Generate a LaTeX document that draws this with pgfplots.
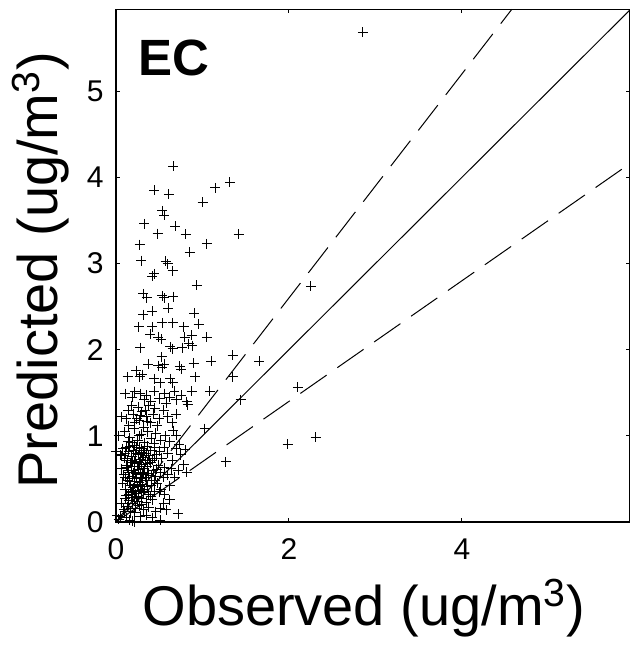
\documentclass[border=0pt]{standalone}
\usepackage{fontspec}
\setmainfont{Liberation Sans}
\usepackage{pgfplots}
\pgfplotsset{compat=1.18}
\begin{document}
\begin{tikzpicture}
\begin{axis}[
  at={(0,0)}, anchor=south west,
  scale only axis,
  width=257pt, height=256.5pt,
  xmin=0, xmax=5.94, ymin=0, ymax=5.95,
  xtick={0,2,4}, ytick={0,1,2,3,4,5},
  xtick pos=both, ytick pos=both,
  tick align=inside,
  major tick length=2pt,
  every tick/.style={black, line width=0.5pt},
  axis line style={line width=0.7pt},
  /pgf/number format/assume math mode=true,
  tick label style={font=\fontsize{15}{18}\selectfont},
  xticklabel style={anchor=north, inner sep=0pt, yshift=-8pt},
  yticklabel style={anchor=east, inner sep=0pt, xshift=-6pt},
  xlabel={Observed (ug/m\textsuperscript{3})},
  ylabel={Predicted (ug/m\textsuperscript{3})},
  label style={font=\fontsize{28}{32}\selectfont},
  xlabel style={at={([yshift=-51.5pt]rel axis cs:0.4825,0)}, anchor=base},
  ylabel style={at={([xshift=-29pt]rel axis cs:0,0.491)}, anchor=base},
  clip=false,
]
\addplot[only marks, mark=+, mark size=2.5pt, line width=0.5pt, black] coordinates {
(2.855,5.684) (0.663,4.128) (0.445,3.853) (0.612,3.805) (1.149,3.878) (1.316,3.945) (1.001,3.709) (0.538,3.61) (0.56,3.56) (0.329,3.459) (0.482,3.348) (0.686,3.43) (0.806,3.338) (1.418,3.338) (0.273,3.218) (1.052,3.227) (0.853,3.131) (0.292,3.035) (0.575,3.025) (0.598,2.996) (0.654,2.914) (0.422,2.85) (0.445,2.88) (0.932,2.746) (2.253,2.736) (0.315,2.649) (0.357,2.6) (0.538,2.625) (0.56,2.6) (0.663,2.616) (0.422,2.447) (0.315,2.408) (0.607,2.48) (0.904,2.423) (0.538,2.312) (0.654,2.312) (0.264,2.264) (0.422,2.264) (0.955,2.298) (0.783,2.264) (0.399,2.177) (0.491,2.144) (0.524,2.12) (0.793,2.144) (0.876,2.168) (0.839,2.071) (1.052,2.144) (0.63,2.033) (0.654,2.013) (0.283,2.023) (0.769,2.023) (0.885,2.047) (1.349,1.936) (0.899,1.84) (1.103,1.864) (1.659,1.864) (0.528,1.917) (0.375,1.83) (0.491,1.816) (0.538,1.792) (0.56,1.83) (0.737,1.806) (0.755,1.773) (0.236,1.758) (1.353,1.686) (0.918,1.686) (0.134,1.686) (0.273,1.686) (0.306,1.71) (0.445,1.662) (0.514,1.614) (0.63,1.662) (0.654,1.614) (1.085,1.517) (0.876,1.517) (2.104,1.566) (1.441,1.421) (0.816,1.397) (1.024,1.084) (2.308,0.987) (1.984,0.901) (1.27,0.698) (0.723,0.096) (0.816,0.578) (0.783,0.665)
(0.11,1.49) (0.22,1.51) (0.283,1.49) (0.352,1.47) (0.445,1.52) (0.561,1.49) (0.677,1.52) (0.755,1.47) (0.19,1.45) (0.33,1.42) (0.40,1.40) (0.50,1.43) (0.62,1.45) (0.70,1.42)
(0.06,1.22) (0.14,1.3) (0.20,1.25) (0.26,1.33) (0.30,1.28) (0.35,1.22) (0.38,1.35) (0.27,1.18) (0.22,1.15) (0.15,1.12) (0.43,1.25) (0.50,1.2) (0.55,1.3) (0.60,1.22) (0.65,1.15) (0.48,1.12) (0.32,1.10) (0.40,1.15) (0.28,1.24) (0.24,1.20) (0.34,1.30) (0.45,1.32) (0.58,1.38) (0.12,1.2) (0.18,1.35) (0.36,1.17) (0.70,1.25) (0.83,1.36) (0.70,1.01)
(0.03,1.0) (0.10,1.05) (0.16,0.98) (0.21,1.08) (0.25,0.95) (0.29,1.02) (0.33,0.92) (0.37,1.05) (0.41,0.97) (0.46,1.03) (0.52,0.95) (0.57,1.00) (0.62,0.93) (0.66,1.06) (0.19,0.92) (0.27,1.0) (0.14,0.94) (0.44,0.91) (0.80,0.84) (0.73,0.90)
(0.00,0.82) (0.05,0.78) (0.08,0.85) (0.11,0.80) (0.13,0.72) (0.16,0.88) (0.18,0.76) (0.20,0.83) (0.22,0.70) (0.24,0.87) (0.26,0.78) (0.28,0.73) (0.30,0.85) (0.32,0.79) (0.34,0.71) (0.36,0.88) (0.38,0.77) (0.40,0.83) (0.42,0.72) (0.44,0.86) (0.47,0.78) (0.50,0.82) (0.53,0.74) (0.56,0.87) (0.60,0.80) (0.65,0.72) (0.70,0.85) (0.75,0.78) (0.10,0.74) (0.15,0.82) (0.19,0.71) (0.23,0.79) (0.27,0.86) (0.31,0.75) (0.35,0.80) (0.39,0.72) (0.12,0.87) (0.21,0.89) (0.29,0.81) (0.45,0.74) (0.07,0.77) (0.33,0.83)
(0.06,0.62) (0.09,0.55) (0.12,0.66) (0.14,0.58) (0.16,0.51) (0.18,0.64) (0.20,0.57) (0.22,0.68) (0.24,0.52) (0.26,0.61) (0.28,0.55) (0.30,0.67) (0.32,0.58) (0.34,0.52) (0.36,0.64) (0.38,0.56) (0.40,0.69) (0.43,0.60) (0.46,0.53) (0.49,0.66) (0.52,0.58) (0.56,0.63) (0.60,0.55) (0.64,0.62) (0.68,0.52) (0.72,0.60) (0.11,0.52) (0.17,0.69) (0.21,0.60) (0.25,0.65) (0.29,0.51) (0.33,0.62) (0.37,0.68) (0.41,0.54) (0.15,0.60) (0.23,0.56) (0.27,0.69) (0.31,0.55) (0.19,0.53) (0.13,0.63) (0.47,0.61) (0.55,0.52)
(0.08,0.45) (0.11,0.38) (0.13,0.48) (0.15,0.32) (0.17,0.42) (0.19,0.36) (0.21,0.47) (0.23,0.33) (0.25,0.41) (0.27,0.46) (0.29,0.35) (0.31,0.44) (0.33,0.38) (0.35,0.48) (0.38,0.32) (0.41,0.42) (0.44,0.36) (0.48,0.45) (0.52,0.38) (0.56,0.32) (0.62,0.42) (0.12,0.31) (0.16,0.47) (0.20,0.40) (0.24,0.30) (0.28,0.43) (0.32,0.34) (0.36,0.41) (0.18,0.34) (0.22,0.44) (0.26,0.37) (0.50,0.35) (0.40,0.30) (0.45,0.48)
(0.06,0.22) (0.09,0.15) (0.11,0.27) (0.13,0.18) (0.15,0.25) (0.17,0.12) (0.19,0.22) (0.21,0.28) (0.23,0.16) (0.25,0.24) (0.27,0.19) (0.29,0.27) (0.32,0.14) (0.35,0.23) (0.38,0.17) (0.42,0.26) (0.46,0.12) (0.51,0.16) (0.55,0.22) (0.14,0.21) (0.18,0.29) (0.22,0.11) (0.26,0.29) (0.30,0.20) (0.10,0.12) (0.35,0.08) (0.62,0.26) (0.58,0.14)
(0.01,0.08) (0.03,0.03) (0.05,0.06) (0.12,0.05) (0.16,0.02) (0.19,0.01) (0.22,0.00) (0.28,0.07) (0.51,0.02) (0.42,0.05)
};
\addplot[black, line width=0.5pt] coordinates {(0,0) (5.94,5.94)};
\addplot[black, line width=0.5pt, dash pattern=on 16pt off 6.5pt] coordinates {(0,0) (4.577,5.95)};
\addplot[black, line width=0.5pt, dash pattern=on 16pt off 6.5pt] coordinates {(0,0) (5.94,4.158)};
\node[anchor=north west, inner sep=0pt, font=\fontsize{25.5}{30}\selectfont\bfseries] at ([xshift=11pt,yshift=-15pt]rel axis cs:0,1) {EC};
\end{axis}
\pgfresetboundingbox
\path[use as bounding box] (-58pt,-64pt) rectangle (257pt,261.15pt);
\end{tikzpicture}
\end{document}
